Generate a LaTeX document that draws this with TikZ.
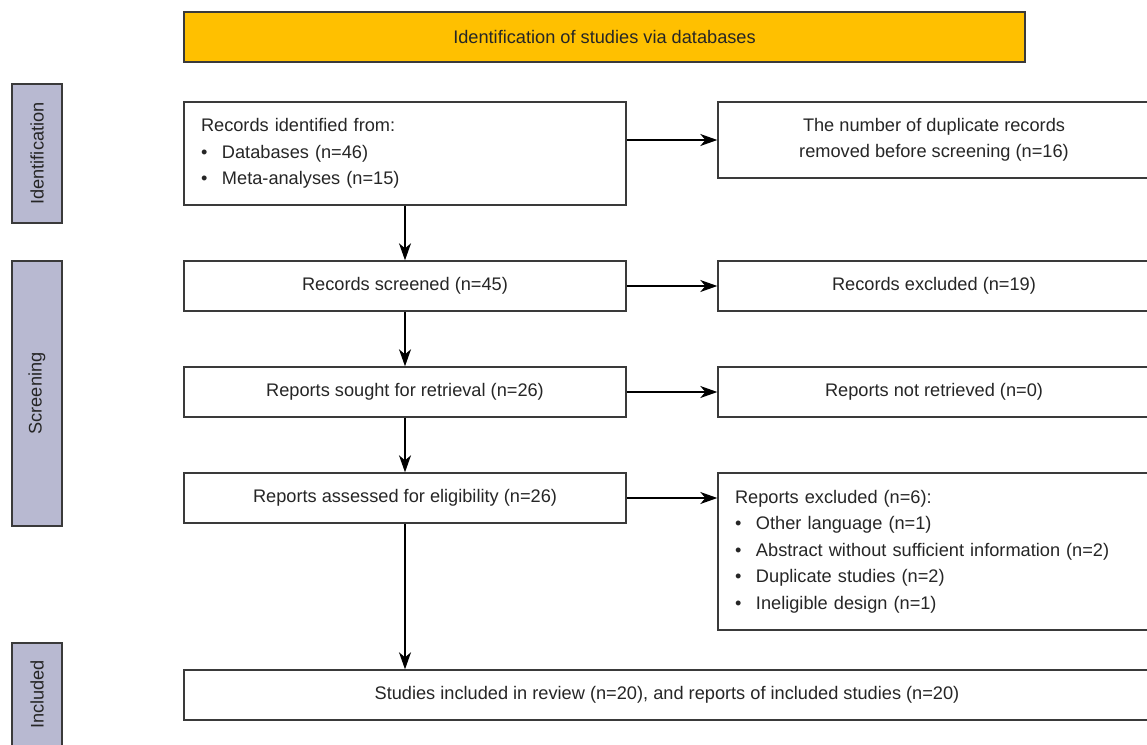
\documentclass[tikz,border=0pt]{standalone}
\usepackage{fontspec}
\setmainfont{Liberation Sans}
\usetikzlibrary{arrows.meta}
\definecolor{headyellow}{HTML}{FFC000}
\definecolor{barblue}{HTML}{B8B9D1}
\definecolor{boxline}{HTML}{3A3A3A}
\definecolor{txtgray}{HTML}{262626}
\newcommand{\bitem}{\makebox[21pt][l]{\textbullet}}

\tikzset{
	procbox/.style={draw=boxline, line width=1.4pt, fill=white, text=txtgray, inner sep=0pt, minimum height=50pt, font=\fontsize{18.2}{26.5}\selectfont},
	headbox/.style={procbox, fill=headyellow},
	sidebar/.style={draw=boxline, line width=1.4pt, fill=barblue, text=txtgray, rotate=90, minimum height=50pt, inner sep=0pt, font=\fontsize{18.2}{21}\selectfont},
	arr/.style={-{Stealth[length=17pt, width=12pt, inset=5pt]}, line width=1.2pt, draw=black}
}

\begin{document}
\begin{tikzpicture}[x=1pt, y=-1pt]
			%%%%% START %%%%%
			\useasboundingbox (0, 0) rectangle (1147, 744);
			
			\node[headbox, minimum width=841pt] (head) at (604.5, 37) {Identification of studies via databases};
			
			\node[sidebar, minimum width=139pt] (sideid) at (37, 153.5) {Identification};
			\node[sidebar, minimum width=265pt] (sidescr) at (37, 393.5) {Screening};
			\node[sidebar, minimum width=103pt] (sideinc) at (37, 694.5) {Included};
			
			%%%%% LEFT COLUMN %%%%%
			\node[procbox, minimum width=442pt, minimum height=103pt, align=left, text width=408pt] (ident) at (405, 153.5) {Records identified from:\\\bitem Databases (n=46)\\\bitem Meta-analyses (n=15)};
			\node[procbox, minimum width=442pt] (scr) at (405, 286) {Records screened (n=45)};
			\node[procbox, minimum width=442pt] (sought) at (405, 392) {Reports sought for retrieval (n=26)};
			\node[procbox, minimum width=442pt] (assessed) at (405, 498) {Reports assessed for eligibility (n=26)};
			
			%%%%% RIGHT COLUMN %%%%%
			\node[procbox, minimum width=432pt, minimum height=76pt, align=center] (dup) at (934, 140) {The number of duplicate records\\removed before screening (n=16)};
			\node[procbox, minimum width=432pt] (excl) at (934, 286) {Records excluded (n=19)};
			\node[procbox, minimum width=432pt] (notret) at (934, 392) {Reports not retrieved (n=0)};
			\node[procbox, minimum width=432pt, minimum height=157pt, align=left, text width=398pt] (repexcl) at (934, 551.5) {Reports excluded (n=6):\\\bitem Other language (n=1)\\\bitem Abstract without sufficient information (n=2)\\\bitem Duplicate studies (n=2)\\\bitem Ineligible design (n=1)};
			
			\node[procbox, minimum width=966pt] (incl) at (667, 695) {Studies included in review (n=20), and reports of included studies (n=20)};
			
			%%%%% ARROWS %%%%%
			\draw[arr] (ident.east |- dup.west) -- (dup.west);
			\draw[arr] (scr.east) -- (excl.west);
			\draw[arr] (sought.east) -- (notret.west);
			\draw[arr] (assessed.east) -- (assessed.east -| repexcl.west);
			
			\draw[arr] (ident.south) -- (scr.north);
			\draw[arr] (scr.south) -- (sought.north);
			\draw[arr] (sought.south) -- (assessed.north);
			\draw[arr] (assessed.south) -- (assessed.south |- incl.north);
			%%%%% END %%%%%
\end{tikzpicture}
\end{document}
